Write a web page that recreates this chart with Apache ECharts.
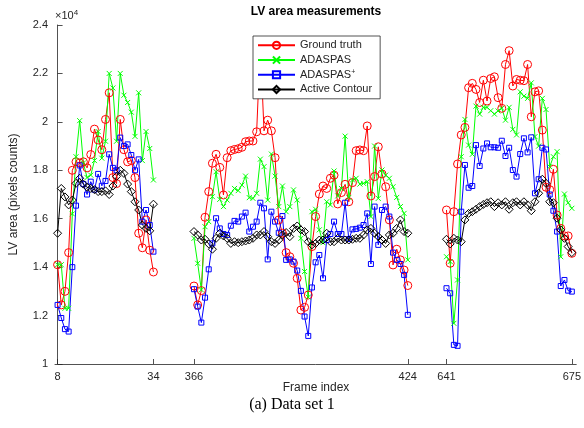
<!DOCTYPE html>
<html>
<head>
<meta charset="utf-8">
<script src="https://cdn.jsdelivr.net/npm/echarts@6/dist/echarts.min.js"></script>
<style>
  html, body { margin: 0; padding: 0; background: #fff; }
  #chart { width: 584px; height: 428px; }
</style>
</head>
<body>
<div id="chart"></div>
<script>
// LV area, units of 1e4 pixels. Three frame ranges, drawn side by side.
const frameRanges = [[8, 34], [366, 424], [641, 675]];
const rangeStart = [0, 37, 105.5];          // where each range begins on the x axis
const xTickFrames = [8, 34, 366, 424, 641, 675];
const yTicks = [1, 1.2, 1.4, 1.6, 1.8, 2, 2.2, 2.4];

// frames 8-34
const groundTruth1 = [1.41, 1.244, 1.30, 1.46, 1.80, 1.835, 1.83, 1.835, 1.81, 1.865, 1.97, 1.925, 1.885, 2.01, 2.12, 1.77, 1.745, 2.01, 1.885, 1.835, 1.84, 1.77, 1.54, 1.48, 1.595, 1.47, 1.38];
const adaspas1 = [1.41, 1.41, 1.23, 1.23, 1.62, 1.856, 2.005, 1.83, 1.77, 1.78, 1.84, 1.96, 1.85, 1.92, 2.20, 2.14, 1.92, 2.20, 2.11, 2.08, 2.04, 1.94, 2.12, 1.84, 1.96, 1.89, 1.76];
const adaspasPlus1 = [1.244, 1.19, 1.144, 1.134, 1.40, 1.654, 1.82, 1.743, 1.70, 1.753, 1.72, 1.785, 1.736, 1.756, 1.866, 1.81, 1.80, 1.935, 1.90, 1.907, 1.863, 1.80, 1.845, 1.588, 1.636, 1.574, 1.464];
const activeContour1 = [1.54, 1.725, 1.69, 1.657, 1.677, 1.746, 1.767, 1.743, 1.73, 1.725, 1.72, 1.712, 1.712, 1.715, 1.70, 1.735, 1.775, 1.80, 1.787, 1.743, 1.712, 1.67, 1.636, 1.574, 1.56, 1.55, 1.66];

// frames 366-424
const groundTruth2 = [1.322, 1.244, 1.303, 1.606, 1.712, 1.829, 1.866, 1.812, 1.698, 1.852, 1.881, 1.886, 1.889, 1.895, 1.918, 1.921, 1.921, 1.959, 2.32, 1.963, 2.007, 1.963, 1.852, 1.595, 1.540, 1.460, 1.443, 1.416, 1.354, 1.223,
  1.234, 1.285, 1.485, 1.609, 1.702, 1.735, 1.725, 1.767, 1.780, 1.661, 1.708, 1.742, 1.670, 1.749, 1.881, 1.884, 1.881, 1.983, 1.694, 1.774, 1.897, 1.785, 1.732, 1.595, 1.409, 1.474, 1.430, 1.388, 1.324];
const adaspas2 = [1.519, 1.416, 1.306, 1.567, 1.588, 1.691, 1.794, 1.680, 1.650, 1.677, 1.705, 1.725, 1.716, 1.739, 1.776, 1.687, 1.684, 1.705, 1.846, 1.815, 1.677, 1.867, 1.776, 1.650, 1.735, 1.629, 1.650, 1.719, 1.677, 1.519,
  1.382, 1.276, 1.629, 1.639, 1.554, 1.501, 1.670, 1.657, 1.797, 1.694, 1.725, 1.941, 1.688, 1.760, 1.767, 1.743, 1.746, 1.753, 1.609, 1.900, 1.684, 1.801, 1.780, 1.767, 1.732, 1.688, 1.650, 1.622, 1.430];
const adaspasPlus2 = [1.309, 1.237, 1.171, 1.274, 1.391, 1.498, 1.602, 1.560, 1.537, 1.533, 1.571, 1.591, 1.588, 1.609, 1.625, 1.547, 1.567, 1.588, 1.666, 1.643, 1.432, 1.629, 1.588, 1.542, 1.611, 1.430, 1.432, 1.423, 1.386, 1.302,
  1.196, 1.116, 1.316, 1.420, 1.450, 1.354, 1.512, 1.537, 1.588, 1.537, 1.537, 1.666, 1.516, 1.556, 1.558, 1.563, 1.574, 1.622, 1.413, 1.650, 1.492, 1.636, 1.650, 1.609, 1.460, 1.430, 1.413, 1.368, 1.203];
const activeContour2 = [1.547, 1.533, 1.512, 1.515, 1.496, 1.474, 1.519, 1.540, 1.529, 1.519, 1.498, 1.505, 1.501, 1.505, 1.508, 1.512, 1.519, 1.533, 1.533, 1.547, 1.526, 1.505, 1.498, 1.512, 1.533, 1.543, 1.526, 1.560, 1.570, 1.554,
  1.547, 1.505, 1.492, 1.498, 1.512, 1.512, 1.540, 1.505, 1.505, 1.519, 1.512, 1.512, 1.512, 1.515, 1.519, 1.519, 1.533, 1.554, 1.560, 1.540, 1.526, 1.512, 1.498, 1.533, 1.540, 1.560, 1.595, 1.547, 1.540];

// frames 641-675
const groundTruth3 = [1.636, 1.416, 1.629, 1.826, 1.946, 1.977, 2.141, 2.159, 2.134, 2.08, 2.172, 2.086, 2.179, 2.186, 2.100, 2.056, 2.237, 2.294, 2.148, 2.175, 2.172, 2.170, 2.237, 2.021, 2.124, 2.128, 1.966, 1.73, 1.72, 1.804, 1.615, 1.560, 1.529, 1.529, 1.457];
const adaspas3 = [1.443, 1.423, 1.168, 1.347, 1.856, 2.010, 1.904, 1.866, 2.065, 2.032, 2.060, 2.060, 2.046, 2.032, 2.045, 2.056, 2.007, 2.060, 1.969, 1.946, 2.124, 2.106, 2.097, 2.161, 1.939, 1.900, 2.097, 2.051, 1.815, 1.856, 1.877, 1.443, 1.702, 1.666, 1.643];
const adaspasPlus3 = [1.313, 1.292, 1.079, 1.075, 1.629, 1.822, 1.728, 1.735, 1.904, 1.818, 1.890, 1.911, 1.895, 1.895, 1.893, 1.922, 1.859, 1.893, 1.801, 1.774, 1.867, 1.932, 1.874, 1.936, 1.705, 1.763, 1.893, 1.886, 1.70, 1.633, 1.547, 1.322, 1.347, 1.303, 1.299];
const activeContour3 = [1.515, 1.496, 1.519, 1.512, 1.505, 1.595, 1.622, 1.629, 1.639, 1.650, 1.659, 1.666, 1.670, 1.650, 1.666, 1.657, 1.670, 1.639, 1.666, 1.670, 1.657, 1.670, 1.657, 1.633, 1.670, 1.705, 1.763, 1.746, 1.670, 1.666, 1.602, 1.554, 1.519, 1.485, 1.460];

// frame number -> x position
function frameToX(f) {
  for (let s = 0; s < frameRanges.length; s++) {
    if (f >= frameRanges[s][0] && f <= frameRanges[s][1]) return rangeStart[s] + (f - frameRanges[s][0]);
  }
  return NaN;
}
const xTickPos = xTickFrames.map(frameToX);

// join the three ranges, with a break between them
function buildData(parts) {
  const out = [];
  parts.forEach((vals, s) => {
    if (s > 0) out.push([rangeStart[s] - 1, '-']);
    vals.forEach((v, i) => out.push([rangeStart[s] + i, v]));
  });
  return out;
}

const textColor = '#262626';
const font = '"Liberation Sans", Arial, Helvetica, sans-serif';

function makeSeries(name, parts, color, symbol, size, hollow) {
  return {
    name,
    type: 'line',
    data: buildData(parts),
    symbol,
    symbolSize: size,
    showAllSymbol: true,
    connectNulls: false,
    lineStyle: { color, width: 1 },
    itemStyle: hollow
      ? { color: 'rgba(255,255,255,0)', borderColor: color, borderWidth: 1 }
      : { color, borderColor: color, borderWidth: 1 },
    emphasis: { disabled: true },
    animation: false
  };
}

const chart = echarts.init(document.getElementById('chart'), null, { renderer: 'canvas' });

const option = {
  animation: false,
  textStyle: { fontFamily: font },
  grid: { left: 55, right: 7, top: 25, bottom: 64 },
  legend: {
    orient: 'vertical',
    left: 253,
    top: 36,
    padding: [3, 8, 3, 4],
    itemWidth: 37,
    itemHeight: 9,
    itemGap: 2,
    backgroundColor: '#fff',
    borderColor: textColor,
    borderWidth: 0.8,
    borderRadius: 0,
    zlevel: 1,
    z: 10,
    textStyle: {
      fontFamily: font,
      fontSize: 11,
      color: textColor,
      lineHeight: 12.7,
      rich: {
        sup: { fontSize: 7, verticalAlign: 'top', lineHeight: 8, padding: [0, 0, 4, 0] }
      }
    },
    formatter: name => name === 'ADASPAS+' ? 'ADASPAS{sup|+}' : name,
    data: ['Ground truth', 'ADASPAS', 'ADASPAS+', 'Active Contour']
  },
  xAxis: {
    type: 'value',
    min: -0.7,
    max: 140.7,
    splitLine: { show: false },
    axisLine: { lineStyle: { color: textColor, width: 0.8 } },
    axisTick: { inside: true, length: 5, customValues: xTickPos, lineStyle: { color: textColor, width: 0.8 } },
    axisLabel: {
      customValues: xTickPos,
      color: textColor,
      fontSize: 11,
      fontFamily: font,
      margin: 7,
      formatter: v => {
        const k = xTickPos.findIndex(p => Math.abs(p - v) < 1e-6);
        return k >= 0 ? String(xTickFrames[k]) : '';
      }
    }
  },
  yAxis: {
    type: 'value',
    min: 1,
    max: 2.4,
    interval: 0.2,
    splitLine: { show: false },
    axisLine: { show: true, lineStyle: { color: textColor, width: 0.8 } },
    axisTick: { show: true, inside: true, length: 5, lineStyle: { color: textColor, width: 0.8 } },
    axisLabel: {
      color: textColor,
      fontSize: 11,
      fontFamily: font,
      margin: 7,
      formatter: v => String(Math.round(v * 10) / 10)
    }
  },
  graphic: [
    { type: 'text', x: 316, y: 12, style: { text: 'LV area measurements', font: 'bold 12px ' + font, fill: '#000', align: 'center', verticalAlign: 'middle' } },
    { type: 'text', x: 55, y: 9, style: { text: '×10{s|4}', font: '11px ' + font, fill: textColor, rich: { s: { fontSize: 8, verticalAlign: 'top', padding: [0, 0, 5, 0] } } } },
    { type: 'text', x: 14, y: 194.5, rotation: Math.PI / 2, style: { text: 'LV area (pixels counts)', font: '12px ' + font, fill: textColor, align: 'center', verticalAlign: 'middle' } },
    { type: 'text', x: 316, y: 388, style: { text: 'Frame index', font: '12px ' + font, fill: textColor, align: 'center', verticalAlign: 'middle' } },
    { type: 'text', x: 292, y: 405, style: { text: '(a) Data set 1', font: '16px "Liberation Serif", "Times New Roman", serif', fill: '#000', align: 'center', verticalAlign: 'middle' } }
  ],
  series: [
    makeSeries('Ground truth', [groundTruth1, groundTruth2, groundTruth3], '#ff0000', 'circle', 8, true),
    makeSeries('ADASPAS', [adaspas1, adaspas2, adaspas3], '#00ff00', 'path://M0,0L10,10M10,0L0,10', 5, false),
    makeSeries('ADASPAS+', [adaspasPlus1, adaspasPlus2, adaspasPlus3], '#0000ff', 'rect', 5, true),
    makeSeries('Active Contour', [activeContour1, activeContour2, activeContour3], '#000000', 'diamond', 8, true)
  ]
};

chart.setOption(option);
</script>
</body>
</html>
